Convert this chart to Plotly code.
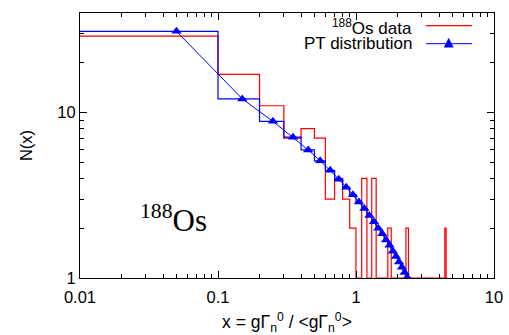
import math
import plotly.graph_objects as go

# ---- data ----
# histogram bin edges (first bin starts at the left edge of the axis)
bin_edges = [0.01] + [round(0.1 * k, 1) for k in range(1, 47)]
# 188Os data: counts per bin (bins at the floor drawn at 1)
red_counts = [29, 17, 11, 7, 8, 7, 3, 4, 3, 2,
              1, 4, 1, 4, 1, 1, 1, 2, 1, 1,
              1, 1, 1, 2, 1, 1, 1, 1, 1, 1,
              1, 1, 1, 1, 1, 1, 1, 1, 1, 1,
              1, 1, 1, 1, 2, 1]
# Porter-Thomas expected values at bin centres
pt_centers = [0.05, 0.15, 0.25, 0.35, 0.45, 0.55, 0.65, 0.75, 0.85, 0.95,
              1.05, 1.15, 1.25, 1.35, 1.45, 1.55, 1.65, 1.75, 1.85, 1.95,
              2.05, 2.15, 2.25, 2.35]
pt_values = [31.0, 12.1, 8.85, 7.10, 5.95, 5.11, 4.48, 3.96, 3.54, 3.19,
             2.88, 2.63, 2.39, 2.19, 2.00, 1.85, 1.70, 1.58, 1.45, 1.35,
             1.25, 1.16, 1.08, 1.01]
pt_edges = bin_edges[:len(pt_values) + 1]

x_ticks = [0.01, 0.1, 1, 10]
x_ticktext = ["0.01", "0.1", "1", "10"]
y_ticks = [1, 10]
y_ticktext = ["1", "10"]

RED = "#ff0000"
BLUE = "#0000ff"
FONT = "Liberation Sans"
FS = 16.5

fig = go.Figure()

fig.add_trace(go.Scatter(
    x=bin_edges, y=red_counts + [red_counts[-1]], mode="lines",
    line=dict(color=RED, width=1.2, shape="hv"), showlegend=False))

fig.add_trace(go.Scatter(
    x=pt_edges, y=pt_values + [pt_values[-1]], mode="lines",
    line=dict(color=BLUE, width=1.2, shape="hv"), showlegend=False))

fig.add_trace(go.Scatter(
    x=pt_centers, y=pt_values, mode="lines+markers",
    line=dict(color=BLUE, width=1),
    marker=dict(symbol="triangle-up", size=9, color=BLUE),
    showlegend=False))

minor_x = [m * 10 ** e for e in (-2, -1, 0) for m in range(2, 10)]
minor_y = [2, 3, 4, 5, 6, 7, 8, 9, 20, 30]

axis_common = dict(
    showline=True, linecolor="black", linewidth=1.2, mirror="ticks",
    ticks="inside", ticklen=7, tickwidth=1, tickcolor="black",
    showgrid=False, zeroline=False, automargin=False,
    tickfont=dict(family=FONT, size=FS, color="black"),
)

fig.update_xaxes(
    type="log", range=[-2, 1], tickmode="array", tickvals=x_ticks,
    ticktext=x_ticktext, ticklabelstandoff=4,
    minor=dict(tickmode="array", tickvals=minor_x, ticklen=3.5,
               ticks="inside", tickcolor="black", showgrid=False),
    title=dict(text="x = gΓ<sub>n</sub><sup>0</sup> / &lt;gΓ<sub>n</sub><sup>0</sup>&gt;",
               standoff=15, font=dict(family=FONT, size=17.5, color="black")),
    **axis_common)

fig.update_yaxes(
    type="log", range=[0, math.log10(40)], tickmode="array",
    tickvals=y_ticks, ticktext=y_ticktext,
    minor=dict(tickmode="array", tickvals=minor_y, ticklen=3.5,
               ticks="inside", tickcolor="black", showgrid=False),
    title=dict(text="N(x)", standoff=20,
               font=dict(family=FONT, size=FS, color="black")),
    **axis_common)

# plot-area geometry in pixels (for manual legend placement)
L, R, T, B = 80, 494, 13, 278
def px(xp):
    return (xp - L) / (R - L)
def py(yp):
    return (B - yp) / (B - T)

annotations = [
    dict(text="<sup>188</sup>Os data", x=px(414), y=py(27), xref="paper",
         yref="paper", xanchor="right", yanchor="middle", showarrow=False,
         font=dict(family=FONT, size=FS + 0.5, color="black")),
    dict(text="PT distribution", x=px(414), y=py(44), xref="paper",
         yref="paper", xanchor="right", yanchor="middle", showarrow=False,
         font=dict(family=FONT, size=FS + 0.5, color="black")),
    dict(text="<sup>188</sup>Os", x=px(138), y=py(218), xref="paper",
         yref="paper", xanchor="left", yanchor="middle", showarrow=False,
         font=dict(family="Liberation Serif", size=31, color="black")),
]

tx, ty = px(448.7), py(43.7)
dx, dyu, dyd = 4.5 / (R - L), 5.5 / (B - T), 3.5 / (B - T)
shapes = [
    dict(type="line", xref="paper", yref="paper", x0=px(426), x1=px(472),
         y0=py(25.7), y1=py(25.7), line=dict(color=RED, width=1.2)),
    dict(type="line", xref="paper", yref="paper", x0=px(426), x1=px(472),
         y0=py(43.7), y1=py(43.7), line=dict(color=BLUE, width=1)),
    dict(type="path", xref="paper", yref="paper",
         path=f"M {tx},{ty + dyu} L {tx + dx},{ty - dyd} L {tx - dx},{ty - dyd} Z",
         fillcolor=BLUE, line=dict(color=BLUE, width=0.5)),
]

fig.update_layout(
    width=509, height=335,
    margin=dict(l=L, r=509 - R, t=T, b=335 - B),
    paper_bgcolor="white", plot_bgcolor="white",
    showlegend=False,
    annotations=annotations, shapes=shapes,
)

fig.write_html("out.html")
